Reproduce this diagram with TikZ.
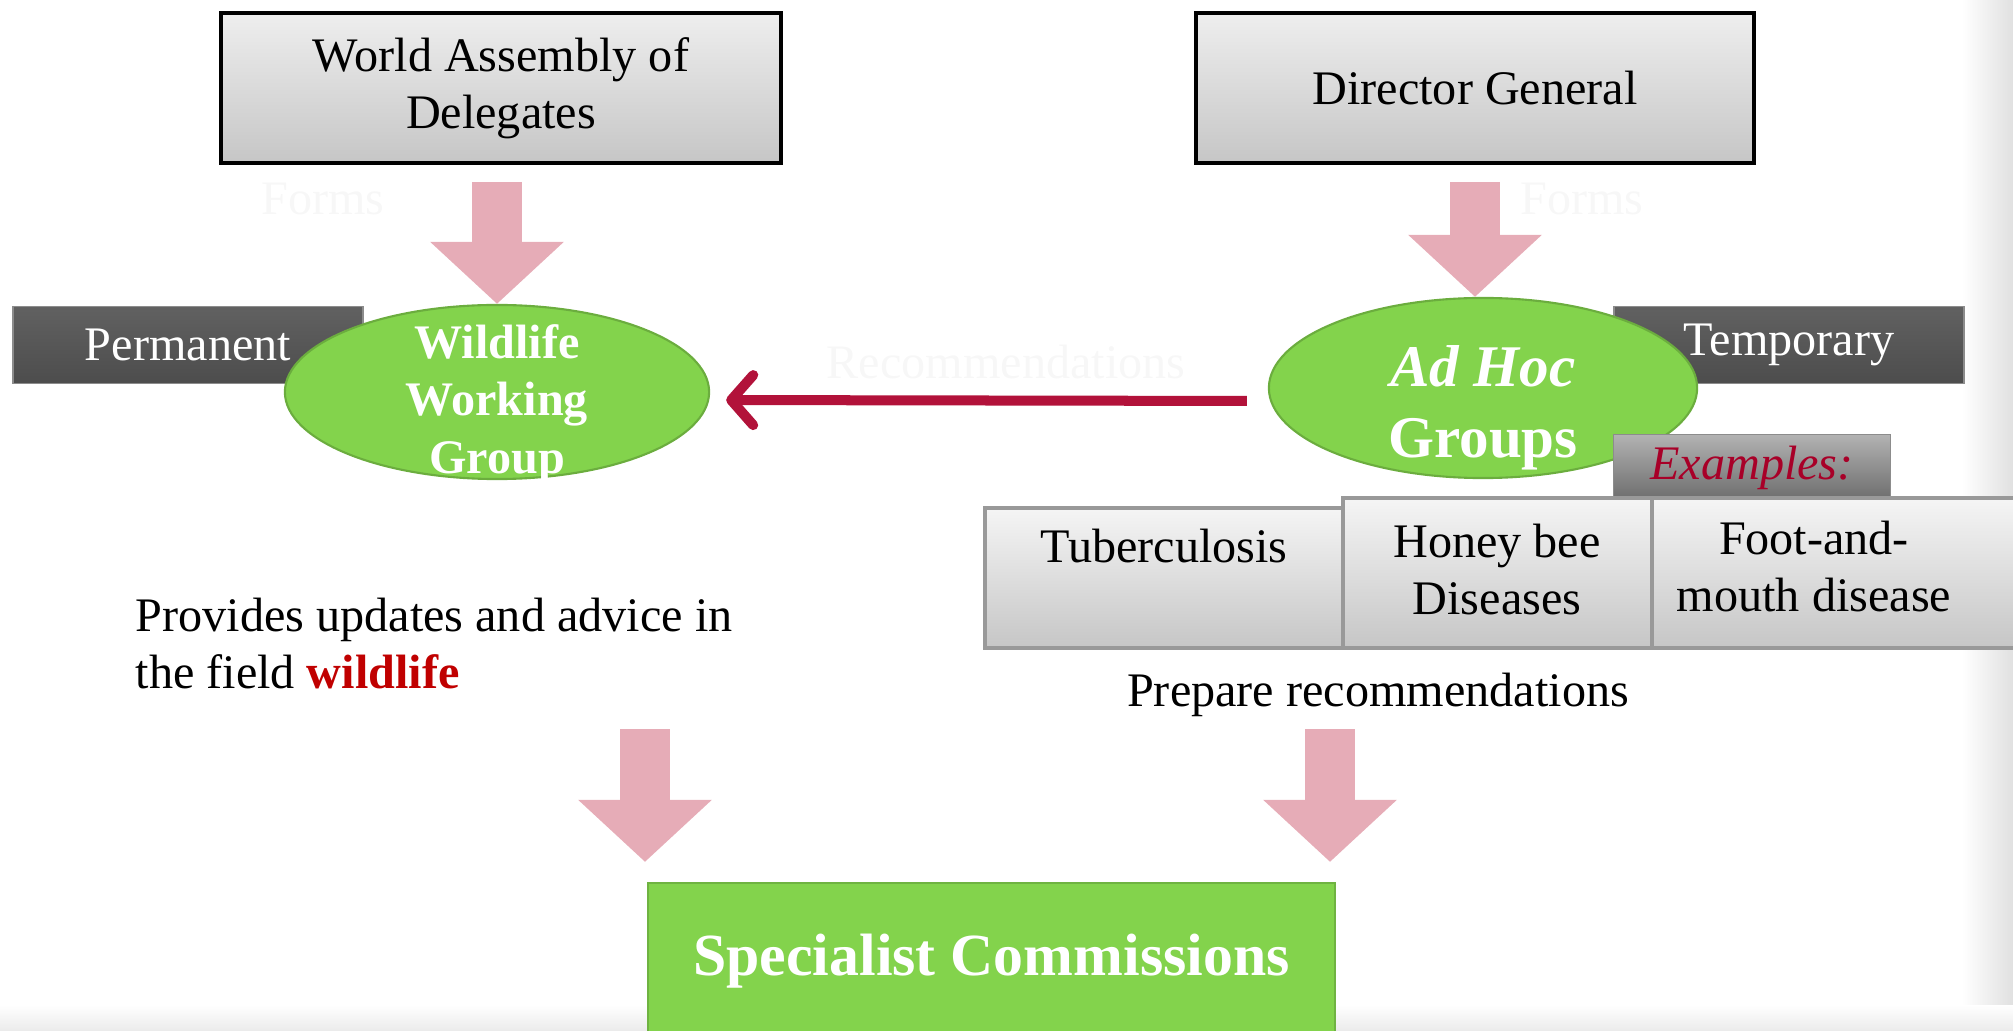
\documentclass[tikz,border=0pt]{standalone}
\usepackage{fontspec}
\setmainfont{Liberation Serif}
\usetikzlibrary{shapes.geometric, arrows.meta, positioning}

\definecolor{boxtop}{RGB}{238,238,238}
\definecolor{boxbot}{RGB}{198,198,198}
\definecolor{wgreen}{RGB}{131,211,76}
\definecolor{pinkarr}{RGB}{230,172,183}
\definecolor{recred}{RGB}{178,18,58}
\definecolor{exred}{RGB}{168,0,40}
\definecolor{wildred}{RGB}{192,0,0}
\newcommand{\txtsize}{\fontsize{13.7}{16.3}\selectfont}
\newcommand{\bigsize}{\fontsize{16.8}{20.2}\selectfont}

\tikzset{
    graybox/.style={rectangle, draw=black, line width=1.1pt, top color=boxtop, bottom color=boxbot, align=center, font=\txtsize},
    disbox/.style={rectangle, draw=black!40, line width=1pt, top color=boxtop!60!white, bottom color=boxbot},
    distext/.style={align=center, inner sep=0pt, font=\txtsize},
    darkbox/.style={rectangle, draw=black!45, top color=black!62, middle color=black!84, bottom color=black!70, text=white, font=\txtsize},
    exbox/.style={rectangle, draw=black!45, top color=black!30, middle color=black!50, bottom color=black!58, text=exred, font=\txtsize},
    greenell/.style={ellipse, fill=wgreen, draw=wgreen!82!black, line width=0.6pt},
    elltext/.style={align=center, text=white, inner sep=0pt, font=\txtsize\bfseries},
    scbox/.style={rectangle, fill=wgreen, draw=wgreen!85!black, line width=0.6pt, text=white, font=\fontsize{17}{20}\selectfont\bfseries},
    faint/.style={text=black!3, font=\txtsize},
    pinkarrow/.style={draw=pinkarr, line width=0.5cm, -{Triangle[width=1.3cm, length=0.62cm]}},
    recarrow/.style={draw=recred, line width=0.1cm, -{Straight Barb[length=0.22cm, width=0.5cm, line cap=round, line join=round]}}
}

\begin{document}
\begin{tikzpicture}[x=0.01cm, y=-0.01cm]
    \useasboundingbox (0,0) rectangle (2013,1031);
    % slide edges
    \shade[left color=white, right color=black!12] (1962,0) rectangle (2013,1031);
    \shade[top color=white, bottom color=black!8] (0,1005) rectangle (2013,1031);

    % top boxes
    \node[graybox, minimum width=5.59cm, minimum height=1.50cm] (wad) at (501,88) {World Assembly of\\Delegates};
    \node[graybox, minimum width=5.57cm, minimum height=1.50cm] (dg) at (1475,88) {Director General};

    % faint labels
    \node[faint] (formsl) at (323,199) {Forms};
    \node[faint] (formsr) at (1582,199) {Forms};
    \node[faint] (recs) at (1006,362) {Recommendations};

    % permanent / temporary
    \node[darkbox, minimum width=3.50cm, minimum height=0.77cm] (perm) at (188,345) {Permanent};
    \node[darkbox, minimum width=3.50cm, minimum height=0.77cm] (temp) at (1789,345) {Temporary};

    % groups
    \node[greenell, minimum width=4.24cm, minimum height=1.74cm] (wwg) at (497,392) {};
    \node[elltext] (wwgtxt) at (497,404) {Wildlife\\Working\\Group};
    \node[greenell, minimum width=4.28cm, minimum height=1.80cm] (ahg) at (1483,388) {};
    \node[elltext, font=\bigsize\bfseries] (ahgtxt) at (1483,408) {\textit{Ad Hoc}\\Groups};

    % examples
    \node[exbox, minimum width=2.77cm, minimum height=0.57cm] (exmp) at (1752,468) {\textit{Examples:}};
    \node[disbox, minimum width=3.58cm, minimum height=1.40cm] (tb) at (1164,578) {};
    \node[disbox, minimum width=3.09cm, minimum height=1.50cm] (hb) at (1497.5,573) {};
    \node[disbox, minimum width=3.68cm, minimum height=1.50cm] (fmd) at (1836,573) {};
    \node[distext, anchor=north] (tbtxt) at (1164,528) {Tuberculosis};
    \node[distext, anchor=north] (hbtxt) at (1497,523) {Honey bee\\Diseases};
    \node[distext, anchor=north] (fmdtxt) at (1814,520) {Foot-and-\\mouth disease};

    % remarks
    \node[anchor=north west, align=left, inner sep=0pt, font=\txtsize] (prov) at (135,597) {Provides updates and advice in\\the field \textcolor{wildred}{\textbf{wildlife}}};
    \node[anchor=base, font=\txtsize] (prep) at (1378,706) {Prepare recommendations};

    % specialist commissions
    \node[scbox, minimum width=6.87cm, minimum height=1.56cm] (sc) at (991.5,961) {Specialist Commissions};

    % arrows
    \draw[pinkarrow, shorten <=0.17cm] (wwg.north |- wad.south) -- (wwg.north);
    \draw[pinkarrow, shorten <=0.17cm] (dg.south) -- (dg.south |- ahg.north);
    \draw[recarrow, shorten <=0.21cm, shorten >=0.16cm] ([yshift=-0.13cm]ahg.west) -- ([yshift=-0.08cm]wwg.east);
    \coordinate (lwtop) at (645,729);
    \coordinate (rwtop) at (1330,729);
    \draw[pinkarrow, shorten >=0.2cm] (lwtop) -- (lwtop |- sc.north);
    \draw[pinkarrow, shorten >=0.2cm] (rwtop) -- (rwtop |- sc.north);
\end{tikzpicture}
\end{document}
